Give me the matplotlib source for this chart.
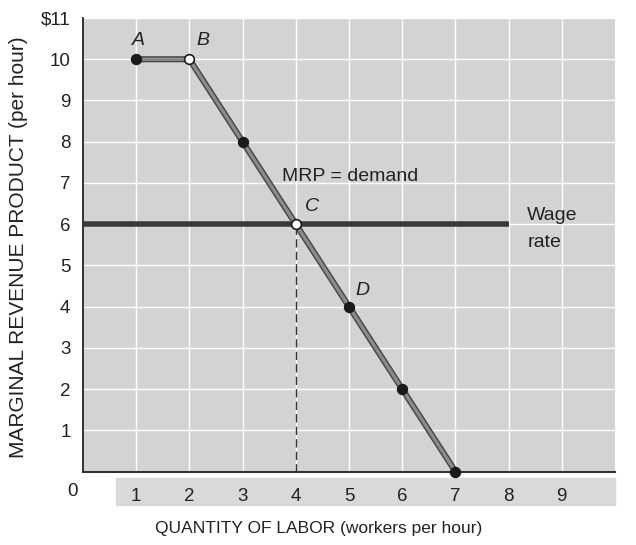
import matplotlib.pyplot as plt
import matplotlib.patheffects as pe
from matplotlib.patches import Rectangle

plt.rcParams['font.family'] = ['Liberation Sans', 'DejaVu Sans']

# MRP (demand) curve points
labor = [1, 2, 3, 4, 5, 6, 7]
mrp = [10, 10, 8, 6, 4, 2, 0]
filled = [True, False, True, False, True, True, True]
wage = 6
wage_end = 8
point_names = {'A': (1, 10), 'B': (2, 10), 'C': (4, 6), 'D': (5, 4)}

x_ticks = [1, 2, 3, 4, 5, 6, 7, 8, 9]
y_ticks = [1, 2, 3, 4, 5, 6, 7, 8, 9, 10, 11]
y_tick_labels = ['1', '2', '3', '4', '5', '6', '7', '8', '9', '10', '\\$11']

fig = plt.figure(figsize=(6.36, 5.45), dpi=100)
fig.patch.set_facecolor('white')

ax = fig.add_axes([83 / 636, 73.5 / 545, 532 / 636, 453.5 / 545])
ax.set_facecolor('#d3d3d3')
ax.set_xlim(0, 10)
ax.set_ylim(0, 11)

# gray band behind the x tick labels
ax.add_patch(Rectangle((116 / 636, 40 / 545), 499 / 636, 27 / 545,
                       transform=fig.transFigure, color='#d9d9d9',
                       zorder=0.5, clip_on=False))

ax.set_xticks(x_ticks)
ax.set_yticks(y_ticks)
ax.set_yticklabels(y_tick_labels)
ax.tick_params(length=0, labelsize=13.5, colors='#222222')
ax.tick_params(axis='x', pad=12)
ax.tick_params(axis='y', pad=9)
ax.grid(True, color='white', linewidth=1)
ax.set_axisbelow(True)

for s in ['top', 'right']:
    ax.spines[s].set_visible(False)
ax.spines['left'].set_color('#222222')
ax.spines['bottom'].set_color('#333333')
ax.spines['left'].set_linewidth(1.3)
ax.spines['bottom'].set_linewidth(1.5)

# dashed line down from C
ax.plot([4, 4], [0, wage], color='#333333', linestyle=(0, (6, 3)), linewidth=1, zorder=2)

# wage rate line
ax.plot([0, wage_end], [wage, wage], color='#3a3a3a', linewidth=4, zorder=3,
        solid_capstyle='butt')

# MRP curve, gray line with dark edge
ax.plot(labor, mrp, color='#8a8a8a', linewidth=2.4, zorder=4,
        path_effects=[pe.Stroke(linewidth=4.4, foreground='#444444'), pe.Normal()])

for x, y, f in zip(labor, mrp, filled):
    ax.plot(x, y, 'o', markersize=7,
            markerfacecolor='#1a1a1a' if f else 'white',
            markeredgecolor='#1a1a1a', markeredgewidth=1.2, zorder=5, clip_on=False)

offsets = {'A': (0.05, 0.45), 'B': (0.25, 0.45), 'C': (0.3, 0.42), 'D': (0.25, 0.4)}
for name, (x, y) in point_names.items():
    dx, dy = offsets[name]
    ax.text(x + dx, y + dy, name, fontsize=14, style='italic', ha='center',
            va='center', color='#222222')

ax.text(3.75, 7.15, 'MRP = demand', fontsize=14, ha='left', va='center', color='#222222')
ax.text(8.35, 6.2, 'Wage', fontsize=14, ha='left', va='center', color='#222222')
ax.text(8.35, 5.55, 'rate', fontsize=14, ha='left', va='center', color='#222222')

fig.text(72 / 636, 1 - 492 / 545, '0', fontsize=13.5, ha='center', va='center',
         color='#222222')
fig.text(19 / 636, 1 - 247 / 545, 'MARGINAL REVENUE PRODUCT (per hour)', rotation=90,
         fontsize=15, ha='center', va='center', color='#222222')
fig.text(319 / 636, 1 - 528 / 545, 'QUANTITY OF LABOR (workers per hour)',
         fontsize=12.5, ha='center', va='center', color='#222222')

fig.savefig('out.png', dpi=100)
